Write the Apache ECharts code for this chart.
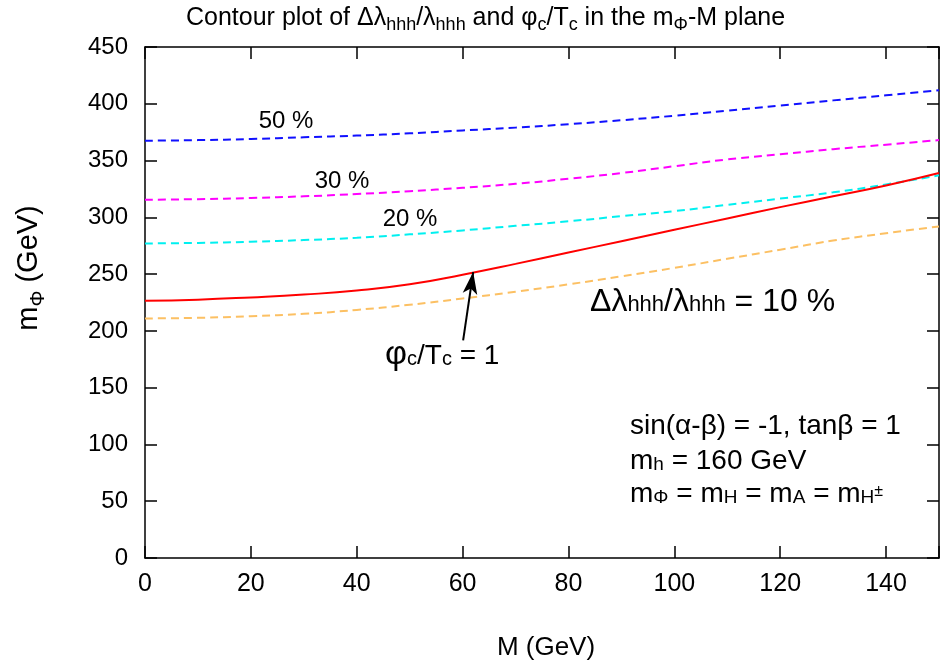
<!DOCTYPE html>
<html><head><meta charset="utf-8">
<script src="https://cdn.jsdelivr.net/npm/echarts@6/dist/echarts.min.js"></script>
<style>html,body{margin:0;padding:0;background:#fff}#c{width:948px;height:664px}</style>
</head><body><div id="c"></div>
<script>
const M      = [0,10,20,30,40,50,60,70,80,90,100,110,120,130,140,150];
const pct50  = [367.5,368,369,370.5,372,374,376.5,379,382,385.5,389.5,394,398.5,403,407.5,412];
const pct30  = [315.5,316,317,318.5,320.5,323,326,329.5,334,339,345,351,355.5,360,364,368];
const pct20  = [277,277.5,278.5,280,282,285,288.5,292.5,296.5,301,305.5,311,316.5,322,329,337];
const pct10  = [211,211.5,213,215,218.5,223,228.5,234.5,241,248,255.5,263.5,271.5,279.5,286,292];
const phiTc1 = [226.5,227.5,229.5,232,235.5,241,249.5,259,269,279,289,299,309,318.5,328,339];
const xTicks = [0,20,40,60,80,100,120,140];
const arrowFrom = [60.1,191.6];
const arrowTo   = [62,251.8];

const FF = '"Liberation Sans", Arial, Helvetica, sans-serif';
const B = 10;
function tk(f, shift){ return {fontSize:f, lineHeight:f, verticalAlign:'bottom', fontFamily:FF, fill:'#000',
  padding:[0,0,Math.max(0, B - 0.1535*f + (shift||0)),0]}; }

const chart = echarts.init(document.getElementById('c'), null, {renderer:'canvas'});
function mk(name, arr, color, dashed){
  return {name, type:'line', data:M.map((m,i)=>[m,arr[i]]), showSymbol:false, smooth:0.5,
    lineStyle:{color, width:2, type: dashed ? [8,5] : 'solid'}, z: dashed?2:3, silent:true};
}
const redSeries = mk('phi', phiTc1, '#ff0000', false);
redSeries.markLine = {silent:true, symbol:['none','arrow'], symbolSize:[11,22],
  lineStyle:{color:'#000', width:2, type:'solid'}, label:{show:false},
  data:[[{coord:arrowFrom},{coord:arrowTo}]]};

const axCommon = {type:'value', splitLine:{show:false},
  axisLine:{show:true, onZero:false, lineStyle:{color:'#000', width:1.5}},
  axisTick:{show:true, inside:true, length:12, lineStyle:{color:'#000', width:1.5}}};

chart.setOption({
  animation:false,
  grid:{left:145, right:9, top:47, bottom:106, containLabel:false},
  xAxis:[
    Object.assign({}, axCommon, {min:0, max:150, interval:20, position:'bottom',
      axisLabel:{fontSize:25, fontFamily:FF, color:'#000', margin:14,
        formatter:v => xTicks.includes(v) ? String(v) : ''}}),
    Object.assign({}, axCommon, {min:0, max:150, interval:20, position:'top', axisLabel:{show:false}})
  ],
  yAxis:[
    Object.assign({}, axCommon, {min:0, max:450, interval:50, position:'left',
      axisLabel:{fontSize:24, fontFamily:FF, color:'#000', margin:17}}),
    Object.assign({}, axCommon, {min:0, max:450, interval:50, position:'right', axisLabel:{show:false}})
  ],
  series:[
    mk('50 %', pct50, '#1010ff', true),
    mk('30 %', pct30, '#ff00ff', true),
    mk('20 %', pct20, '#00f0f0', true),
    mk('10 %', pct10, '#fcc063', true),
    redSeries
  ],
  graphic:[
    {type:'text', x:186, y:24, style:{verticalAlign:'middle', align:'left',
      text:'{a|Contour plot of Δλ}{s|hhh}{a|/λ}{s|hhh}{a| and φ}{s|c}{a|/T}{s|c}{a| in the m}{s|Φ}{a|-M plane}',
      rich:{a:tk(25,0), s:tk(18,-5)}}},
    {type:'text', x:35, y:268, rotation:Math.PI/2, style:{verticalAlign:'middle', align:'center',
      text:'{a|m}{s|Φ}{a| (GeV)}', rich:{a:tk(29,0), s:tk(20,-6)}}},
    {type:'text', x:546, y:648, style:{verticalAlign:'middle', align:'center', text:'M (GeV)',
      fontSize:26, fontFamily:FF, fill:'#000'}},
    {type:'text', x:286, y:121, style:{verticalAlign:'middle', align:'center', text:'50 %', fontSize:24, fontFamily:FF, fill:'#000'}},
    {type:'text', x:342, y:181, style:{verticalAlign:'middle', align:'center', text:'30 %', fontSize:24, fontFamily:FF, fill:'#000'}},
    {type:'text', x:410, y:219, style:{verticalAlign:'middle', align:'center', text:'20 %', fontSize:24, fontFamily:FF, fill:'#000'}},
    {type:'text', x:590, y:307, style:{verticalAlign:'middle', align:'left',
      text:'{a|Δλ}{s|hhh}{a|/λ}{s|hhh}{a| = 10 %}', rich:{a:tk(32,0), s:tk(22,0)}}},
    {type:'text', x:385, y:359, style:{verticalAlign:'middle', align:'left',
      text:'{p|φ}{s|c}{a|/T}{s|c}{a| = 1}', rich:{p:tk(34,0), a:tk(28,0), s:tk(20,0)}}},
    {type:'text', x:630, y:432, style:{verticalAlign:'middle', align:'left',
      text:'{a|sin(α-β) = -1, tanβ = 1}', rich:{a:tk(28,0)}}},
    {type:'text', x:630, y:467, style:{verticalAlign:'middle', align:'left',
      text:'{a|m}{s|h}{a| = 160 GeV}', rich:{a:tk(28,0), s:tk(19,0)}}},
    {type:'text', x:630, y:500, style:{verticalAlign:'middle', align:'left',
      text:'{a|m}{s|Φ}{a| = m}{s|H}{a| = m}{s|A}{a| = m}{s|H}{u|±}', rich:{a:tk(28,0), s:tk(19,0), u:tk(16,7)}}}
  ]
});
</script></body></html>
